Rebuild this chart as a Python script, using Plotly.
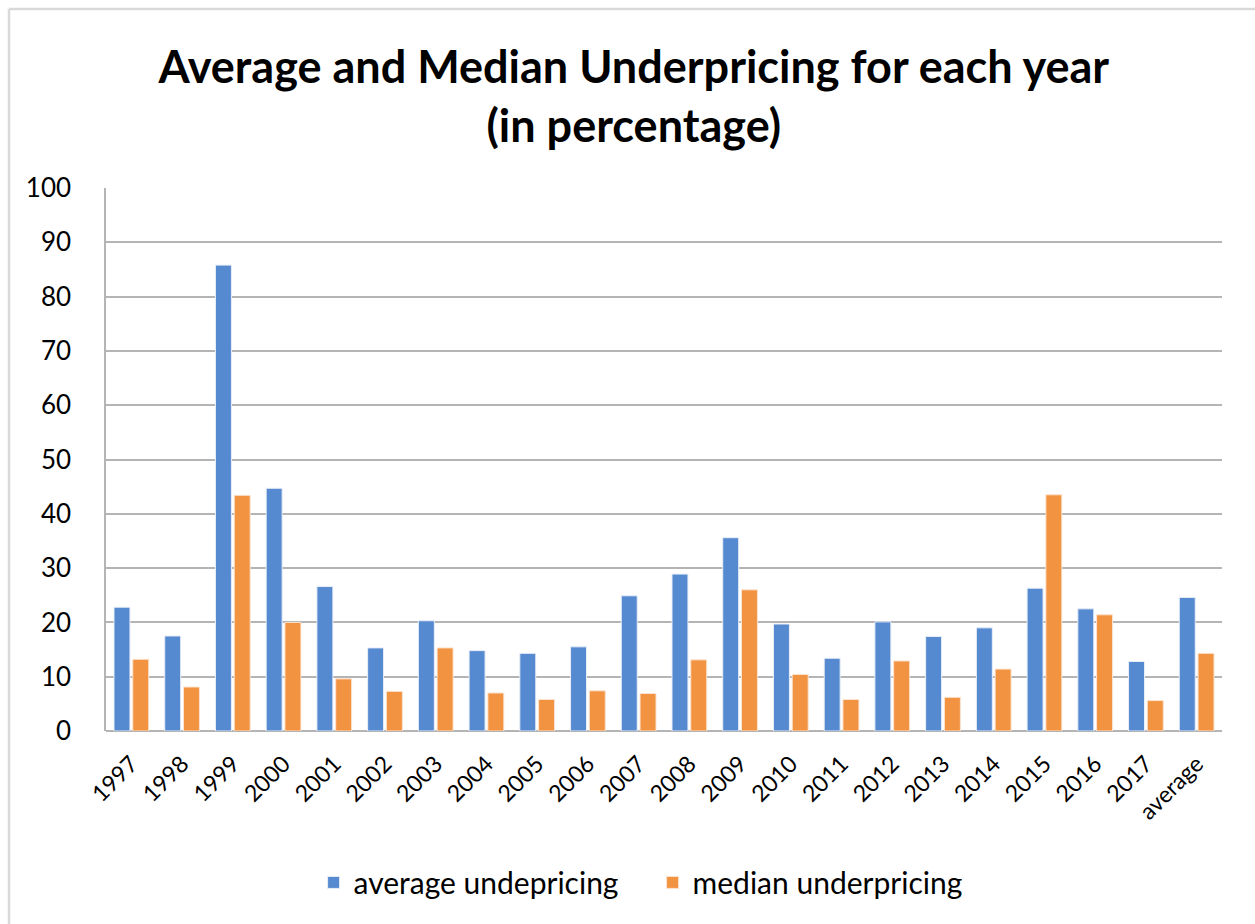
import plotly.graph_objects as go

# Underpricing statistics per IPO year (percent)
years = ["1997", "1998", "1999", "2000", "2001", "2002", "2003", "2004",
         "2005", "2006", "2007", "2008", "2009", "2010", "2011", "2012",
         "2013", "2014", "2015", "2016", "2017", "average"]
average_underpricing = [22.8, 17.5, 85.8, 44.7, 26.6, 15.3, 20.3, 14.8,
                        14.3, 15.5, 24.9, 28.9, 35.6, 19.7, 13.4, 20.1,
                        17.4, 19.0, 26.3, 22.5, 12.8, 24.6]
median_underpricing = [13.2, 8.1, 43.4, 20.0, 9.6, 7.3, 15.3, 7.0,
                       5.8, 7.4, 6.9, 13.1, 26.0, 10.4, 5.8, 12.9,
                       6.2, 11.4, 43.5, 21.4, 5.6, 14.3]
y_ticks = [0, 10, 20, 30, 40, 50, 60, 70, 80, 90, 100]

FONT = "Lato"
BLUE = "#5589d0"
ORANGE = "#f29342"
GRID = "#b4b4b4"

fig = go.Figure()
fig.add_trace(go.Bar(
    x=years, y=average_underpricing, name="average undepricing",
    marker=dict(color=BLUE, line=dict(color="#e8eef8", width=1)),
))
fig.add_trace(go.Bar(
    x=years, y=median_underpricing, name="median underpricing",
    marker=dict(color=ORANGE, line=dict(color="#fbe3cf", width=1)),
))

fig.update_layout(
    width=1255, height=924,
    margin=dict(l=106, r=33, t=188, b=193),
    paper_bgcolor="white", plot_bgcolor="white",
    barmode="group", bargap=0.26, bargroupgap=0.15,
    font=dict(family=FONT, color="#000000"),
    title=dict(
        text="<b>Average and Median Underpricing for each year<br>(in percentage)</b>",
        x=0.505, xref="container", xanchor="center",
        y=0.910, yref="container", yanchor="middle",
        font=dict(family=FONT, size=45, color="#000000"),
    ),
    legend=dict(
        orientation="h", x=0.52, xref="container", xanchor="center",
        y=0.045, yref="container", yanchor="middle",
        font=dict(family=FONT, size=30, color="#000000"),
        itemwidth=30, tracegroupgap=0, entrywidth=294,
    ),
    showlegend=True,
)

fig.update_xaxes(
    type="category", tickangle=-45,
    tickfont=dict(family=FONT, size=23, color="#000000"),
    showgrid=False, showline=False, ticks="", ticklabelstandoff=14,
)
fig.update_yaxes(
    range=[0, 100], tickvals=y_ticks,
    tickfont=dict(family=FONT, size=26, color="#000000"),
    showgrid=True, gridcolor=GRID, gridwidth=1.5,
    zeroline=True, zerolinecolor=GRID, zerolinewidth=2,
    showline=True, linecolor=GRID, linewidth=1.5,
    ticks="", ticklabelstandoff=28,
)

# Chart-area frame along the left and top edges
fig.add_shape(type="line", xref="paper", yref="paper",
              x0=-0.0869, x1=1.2, y0=1.3297, y1=1.3297,
              line=dict(color="#d9d9d9", width=2.5))
fig.add_shape(type="line", xref="paper", yref="paper",
              x0=-0.0869, x1=-0.0869, y0=1.3297, y1=-0.5,
              line=dict(color="#d9d9d9", width=2.5))

fig.write_html("out.html")
